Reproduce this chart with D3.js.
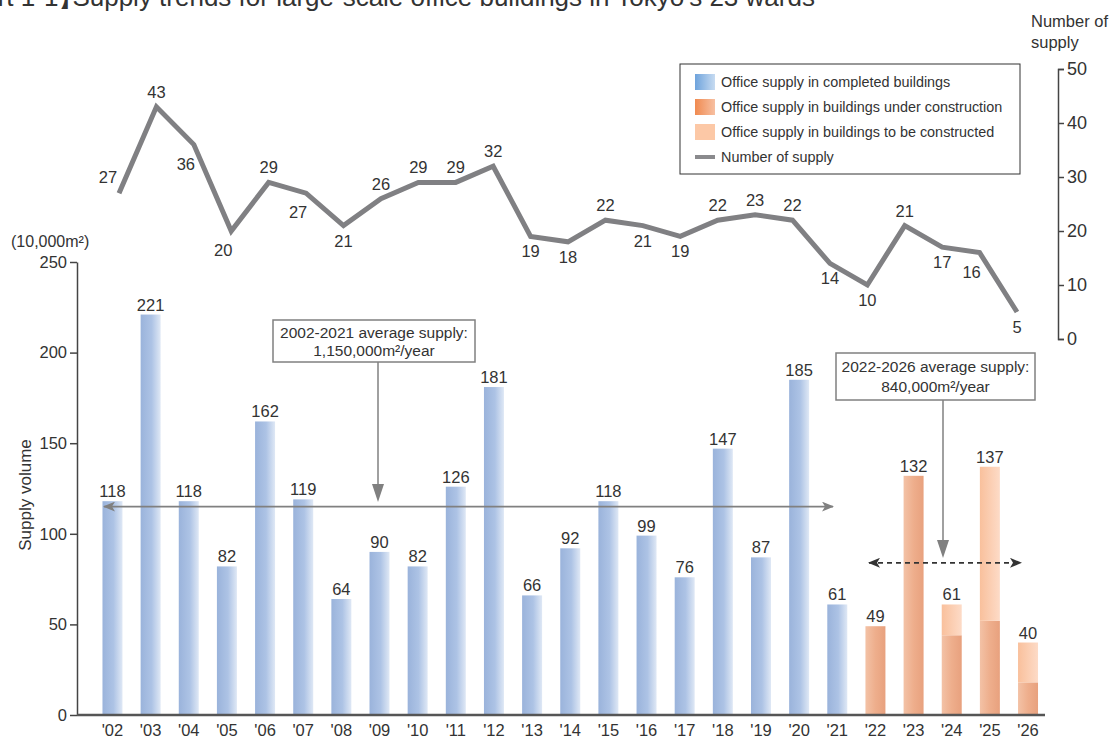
<!DOCTYPE html>
<html>
<head>
<meta charset="utf-8">
<script src="https://cdn.jsdelivr.net/npm/d3@7"></script>
<style>
  html, body { margin: 0; padding: 0; background: #fff; }
  svg { display: block; font-family: "Liberation Sans", Arial, sans-serif; }
</style>
</head>
<body>
<svg id="chart" width="1117" height="738"></svg>
<script>
// Years on the horizontal axis
const years = ["'02","'03","'04","'05","'06","'07","'08","'09","'10","'11","'12","'13",
               "'14","'15","'16","'17","'18","'19","'20","'21","'22","'23","'24","'25","'26"];
// Supply in completed buildings (10,000 m²)
const completed = [118,221,118,82,162,119,64,90,82,126,181,66,92,118,99,76,147,87,185,61,0,0,0,0,0];
// Supply in buildings under construction
const underConstruction = [0,0,0,0,0,0,0,0,0,0,0,0,0,0,0,0,0,0,0,0,49,132,44,52,18];
// Supply in buildings to be constructed
const toBeConstructed = [0,0,0,0,0,0,0,0,0,0,0,0,0,0,0,0,0,0,0,0,0,0,17,85,22];
// Number of buildings supplied
const numberOfSupply = [27,43,36,20,29,27,21,26,29,29,32,19,18,22,21,19,22,23,22,14,10,21,17,16,5];
// Label side for the count line: a = above, b = below, al = above-left, bl = below-left
const countLabelSide = ["al","a","bl","bl","a","bl","b","a","a","a","a","b","b","a","b","b","a","a","a","b","b","a","b","bl","b"];
// Averages (10,000 m²/year)
const avgPast = 115;
const avgFuture = 84;
const leftTicks = [0,50,100,150,200,250];
const rightTicks = [0,10,20,30,40,50];

const FONT = "Liberation Sans, Arial, sans-serif";
const TXT = "#333";

const svg = d3.select("#chart");
const defs = svg.append("defs");

function hGrad(id, stops) {
  const g = defs.append("linearGradient").attr("id", id)
    .attr("x1","0%").attr("x2","100%").attr("y1","0%").attr("y2","0%");
  stops.forEach(s => g.append("stop").attr("offset", s[0]).attr("stop-color", s[1]));
}
hGrad("gBlue", [["0%","#9ab3db"],["55%","#adc3e5"],["100%","#dfe8f5"]]);
hGrad("gOrange", [["0%","#f3c2a6"],["50%","#eeae8c"],["100%","#e8a17e"]]);
hGrad("gLight", [["0%","#f9c09c"],["100%","#fddbc7"]]);
hGrad("gLegBlue", [["0%","#6ea3dc"],["100%","#c7dbf1"]]);
hGrad("gLegOrange", [["0%","#f08a50"],["100%","#f7c0a2"]]);

function marker(id, color) {
  defs.append("marker").attr("id", id)
    .attr("viewBox","0 0 12 10").attr("refX", 11).attr("refY", 5)
    .attr("markerWidth", 12).attr("markerHeight", 10)
    .attr("markerUnits","userSpaceOnUse").attr("orient","auto-start-reverse")
    .append("path").attr("d","M0,0 L12,5 L0,10 L3,5 Z").attr("fill", color);
}
marker("arrGray", "#808080");
marker("arrDark", "#333333");

// Scales
const y = d3.scaleLinear().domain([0,250]).range([715,262]);
const yR = d3.scaleLinear().domain([0,50]).range([339,69]);
const x = d3.scaleBand().domain(years).range([93.4,1047.1]).paddingInner(0.476).paddingOuter(0.238);
const xl = d3.scalePoint().domain(years).range([119,1017]);

// Title (runs off the top-left edge of the canvas)
const title = svg.append("text").attr("x", -76).attr("y", 6).attr("font-size", 26).attr("fill", TXT);
title.append("tspan").text("【Chart 1-1】");
title.append("tspan").attr("dx", -12)
  .text("Supply trends for large-scale office buildings in Tokyo's 23 wards");

// Bars
const bars = svg.append("g");
years.forEach((yr, i) => {
  const bx = x(yr), bw = x.bandwidth();
  if (completed[i] > 0) {
    bars.append("rect").attr("x", bx).attr("width", bw)
      .attr("y", y(completed[i])).attr("height", y(0) - y(completed[i]))
      .attr("fill","url(#gBlue)");
  }
  if (underConstruction[i] > 0) {
    bars.append("rect").attr("x", bx).attr("width", bw)
      .attr("y", y(underConstruction[i])).attr("height", y(0) - y(underConstruction[i]))
      .attr("fill","url(#gOrange)");
  }
  if (toBeConstructed[i] > 0) {
    const top = underConstruction[i] + toBeConstructed[i];
    bars.append("rect").attr("x", bx).attr("width", bw)
      .attr("y", y(top)).attr("height", y(underConstruction[i]) - y(top))
      .attr("fill","url(#gLight)");
  }
  const total = completed[i] + underConstruction[i] + toBeConstructed[i];
  bars.append("text").attr("x", bx + bw/2).attr("y", y(total) - 4)
    .attr("text-anchor","middle").attr("font-size", 16.5).attr("fill",TXT)
    .text(total);
});

// Left axis
const gL = svg.append("g").attr("transform","translate(77,0)")
  .call(d3.axisLeft(y).tickValues(leftTicks).tickSize(7).tickSizeOuter(0).tickPadding(3));
gL.select(".domain").attr("stroke","#444").attr("stroke-width",1.5);
gL.selectAll(".tick line").attr("stroke","#444").attr("stroke-width",1.5);
gL.selectAll(".tick text").attr("font-size",16.5).attr("fill",TXT).attr("font-family",FONT);
svg.append("text").attr("x", 11).attr("y", 247).attr("font-size", 16).attr("fill",TXT).text("(10,000m²)");
svg.append("text").attr("transform","translate(31,495) rotate(-90)")
  .attr("text-anchor","middle").attr("font-size", 17).attr("fill",TXT).text("Supply volume");

// Bottom axis
svg.append("line").attr("x1",77).attr("x2",1045).attr("y1",y(0)).attr("y2",y(0))
  .attr("stroke","#555").attr("stroke-width",2.5);
const gB = svg.append("g").attr("transform",`translate(0,${y(0)})`)
  .call(d3.axisBottom(x).tickSize(0).tickPadding(9));
gB.select(".domain").remove();
gB.selectAll(".tick text").attr("font-size",16.5).attr("fill",TXT).attr("font-family",FONT);

// Right axis
const gR = svg.append("g").attr("transform","translate(1058,0)")
  .call(d3.axisRight(yR).tickValues(rightTicks).tickSize(6).tickSizeOuter(6).tickPadding(3));
gR.select(".domain").attr("stroke","#444").attr("stroke-width",1.5);
gR.selectAll(".tick line").attr("stroke","#444").attr("stroke-width",1.5);
gR.selectAll(".tick text").attr("font-size",18).attr("fill",TXT).attr("font-family",FONT);
svg.append("text").attr("x",1031).attr("y",27).attr("font-size",16.5).attr("fill",TXT).text("Number of");
svg.append("text").attr("x",1031).attr("y",48).attr("font-size",16.5).attr("fill",TXT).text("supply");

// Average lines
svg.append("line").attr("x1", 104).attr("x2", 833).attr("y1", y(avgPast)).attr("y2", y(avgPast))
  .attr("stroke","#808080").attr("stroke-width",1.8)
  .attr("marker-start","url(#arrGray)").attr("marker-end","url(#arrGray)");
svg.append("line").attr("x1", 869).attr("x2", 1021).attr("y1", y(avgFuture)).attr("y2", y(avgFuture))
  .attr("stroke","#333").attr("stroke-width",1.8).attr("stroke-dasharray","5,4")
  .attr("marker-start","url(#arrDark)").attr("marker-end","url(#arrDark)");

// Annotation boxes with pointer arrows
function note(bx, by, bw, bh, lines, baselines, ax, tipY) {
  svg.append("line").attr("x1", ax).attr("x2", ax).attr("y1", by + bh).attr("y2", tipY - 14)
    .attr("stroke","#808080").attr("stroke-width",1.5);
  svg.append("path").attr("d", `M${ax-6},${tipY-18} L${ax+6},${tipY-18} L${ax},${tipY} Z`).attr("fill","#808080");
  svg.append("rect").attr("x", bx).attr("y", by).attr("width", bw).attr("height", bh)
    .attr("fill","#fff").attr("stroke","#808080").attr("stroke-width",1.5);
  lines.forEach((t, k) => {
    svg.append("text").attr("x", bx + bw/2).attr("y", baselines[k])
      .attr("text-anchor","middle").attr("font-size",15.5).attr("fill",TXT).text(t);
  });
}
note(273, 320, 202, 42, ["2002-2021 average supply:", "1,150,000m²/year"], [338, 356], 378, 502);
note(836, 353, 199, 47, ["2022-2026 average supply:", "840,000m²/year"], [372, 392], 943, 558);

// Number of supply line
const line = d3.line().x((d, i) => xl(years[i])).y(d => yR(d));
svg.append("path").datum(numberOfSupply).attr("d", line)
  .attr("fill","none").attr("stroke","#808083").attr("stroke-width",5).attr("stroke-linejoin","miter");
numberOfSupply.forEach((v, i) => {
  const side = countLabelSide[i];
  const px = xl(years[i]), py = yR(v);
  let tx = px, ty;
  if (side === "a") { ty = py - 9; }
  else if (side === "b") { ty = py + 21; }
  else if (side === "al") { tx = px - 11; ty = py - 10; }
  else { tx = px - 8; ty = py + 25; }
  svg.append("text").attr("x", tx).attr("y", ty).attr("text-anchor","middle")
    .attr("font-size",16.5).attr("fill",TXT).text(v);
});

// Legend
const lg = svg.append("g");
lg.append("rect").attr("x",680).attr("y",64).attr("width",340).attr("height",110)
  .attr("fill","#fff").attr("stroke","#333").attr("stroke-width",1);
const legendItems = [
  ["url(#gLegBlue)", "Office supply in completed buildings", "rect"],
  ["url(#gLegOrange)", "Office supply in buildings under construction", "rect"],
  ["#fcc8a6", "Office supply in buildings to be constructed", "rect"],
  ["#8a8a8d", "Number of supply", "line"]
];
legendItems.forEach((it, k) => {
  const cy = 82 + k * 25;
  if (it[2] === "rect") {
    lg.append("rect").attr("x",695).attr("y",cy-8).attr("width",20).attr("height",16).attr("fill",it[0]);
  } else {
    lg.append("line").attr("x1",695).attr("x2",715).attr("y1",cy).attr("y2",cy)
      .attr("stroke",it[0]).attr("stroke-width",4);
  }
  lg.append("text").attr("x",721).attr("y",cy+5).attr("font-size",14.4).attr("fill",TXT).text(it[1]);
});
</script>
</body>
</html>
